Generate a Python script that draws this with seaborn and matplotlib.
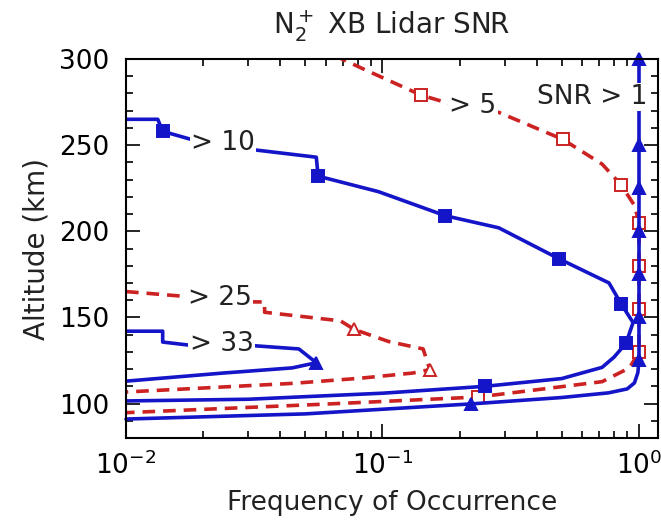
import numpy as np
import pandas as pd
import matplotlib
matplotlib.use('Agg')
import matplotlib.pyplot as plt
import seaborn as sns

# curves: frequency of occurrence vs altitude (km)
snr1_x = [0.01, 0.05, 0.222, 0.5, 0.76, 0.9, 0.96, 0.99, 1.0, 1.0, 1.0, 1.0, 1.0, 1.0, 1.0, 1.0]
snr1_y = [91, 94, 99.8, 103.5, 106.2, 108.5, 112, 118, 125, 150, 175, 200, 225, 250, 275, 300]
snr1_mk = [2, 8, 9, 10, 11, 12, 13, 14, 15]

snr10_x = [0.01, 0.0133, 0.0139, 0.0193, 0.0307, 0.0552, 0.0561, 0.0964, 0.176, 0.284,
           0.488, 0.764, 0.851, 0.948, 0.89, 0.8, 0.718, 0.5, 0.251, 0.1, 0.03, 0.01]
snr10_y = [265, 265, 258, 252, 247.5, 243, 232, 223, 209, 202,
           184, 170, 158, 147, 135, 127, 121, 114.5, 110, 106, 102.5, 101.5]
snr10_mk = [2, 6, 8, 10, 12, 14, 18]

snr5_x = [0.065, 0.082, 0.1416, 0.184, 0.284, 0.504, 0.718, 0.851, 0.96, 1.0, 1.0, 1.0,
          1.0, 0.918, 0.718, 0.236, 0.0605, 0.01]
snr5_y = [302, 295, 279, 274, 269, 253.4, 239, 227, 215, 205, 180, 155,
          130, 120.7, 112.7, 103.8, 99.7, 94.7]
snr5_mk = [2, 5, 7, 9, 10, 11, 12, 15]

snr25_x = [0.01, 0.0176, 0.0307, 0.0347, 0.0347, 0.0686, 0.0776, 0.1057, 0.144, 0.153,
           0.131, 0.082, 0.0445, 0.01]
snr25_y = [165, 162, 159, 159, 153, 148, 143, 136, 131.7, 119.7,
           117.7, 114.7, 111.7, 106.7]
snr25_mk = [6, 9]

snr33_x = [0.01, 0.0139, 0.0139, 0.0181, 0.0307, 0.0472, 0.0552, 0.0445, 0.0239, 0.01]
snr33_y = [142, 142, 135.7, 133.7, 133.7, 131.7, 123.7, 120.7, 117.7, 113]
snr33_mk = [6]

labels = ['> 10', '> 5', '> 25', '> 33', 'SNR > 1']
label_x = [0.0239, 0.225, 0.0232, 0.0236, 1.08]
label_y = [251, 272.7, 161, 134.3, 278]
label_ha = ['center', 'center', 'center', 'center', 'right']

blue = '#1414c8'
red = '#cc2222'

sns.set_style('ticks')
plt.rcParams['font.family'] = ['DejaVu Sans']
plt.rcParams['mathtext.fontset'] = 'dejavusans'

fig = plt.figure(figsize=(6.61, 5.21), dpi=100)
ax = fig.add_axes([126/661, 1-438/521, 532/661, 379/521])

def curve(x, y, color, marker, mk, face, dashed=False, ms=9, clip=True):
    sns.lineplot(x=x, y=y, ax=ax, sort=False, estimator=None, color=color, lw=2.6,
                 marker=marker, markevery=mk, markersize=ms, markerfacecolor=face,
                 markeredgecolor=color, markeredgewidth=1.4, clip_on=clip)
    ln = ax.lines[-1]
    if dashed:
        ln.set_dashes([3.5, 2.2])

curve(snr5_x, snr5_y, red, 's', snr5_mk, 'white', dashed=True, ms=9)
curve(snr25_x, snr25_y, red, '^', snr25_mk, 'white', dashed=True, ms=8)
curve(snr33_x, snr33_y, blue, '^', snr33_mk, blue, ms=9)
curve(snr10_x, snr10_y, blue, 's', snr10_mk, blue, ms=9)
curve(snr1_x, snr1_y, blue, '^', snr1_mk, blue, ms=8, clip=False)

for t, x, y, ha in zip(labels, label_x, label_y, label_ha):
    ax.text(x, y, t, ha=ha, va='center', fontsize=19, color='#222222', zorder=6,
            bbox=dict(facecolor='white', edgecolor='none', pad=1.0))

ax.set_xscale('log')
ax.set_xlim(0.01, 1.186)
ax.set_ylim(80, 300)
ax.set_yticks([100, 150, 200, 250, 300])
ax.yaxis.set_minor_locator(matplotlib.ticker.MultipleLocator(10))

ax.tick_params(which='both', direction='in', top=True, right=True, colors='black')
ax.tick_params(which='major', length=10, width=1.2, labelsize=19)
ax.tick_params(which='minor', length=5, width=1.2)
ax.tick_params(axis='y', pad=12)
ax.tick_params(axis='x', pad=10)
for s in ax.spines.values():
    s.set_linewidth(1.5)
    s.set_color('black')

ax.set_xlabel('Frequency of Occurrence', fontsize=19, color='#222222', labelpad=7)
ax.set_ylabel('Altitude (km)', fontsize=20, color='#222222', labelpad=6)
ax.set_title(r'N$_2^+$ XB Lidar SNR', fontsize=20, color='#222222', pad=18)

fig.savefig('out.png', dpi=100)
